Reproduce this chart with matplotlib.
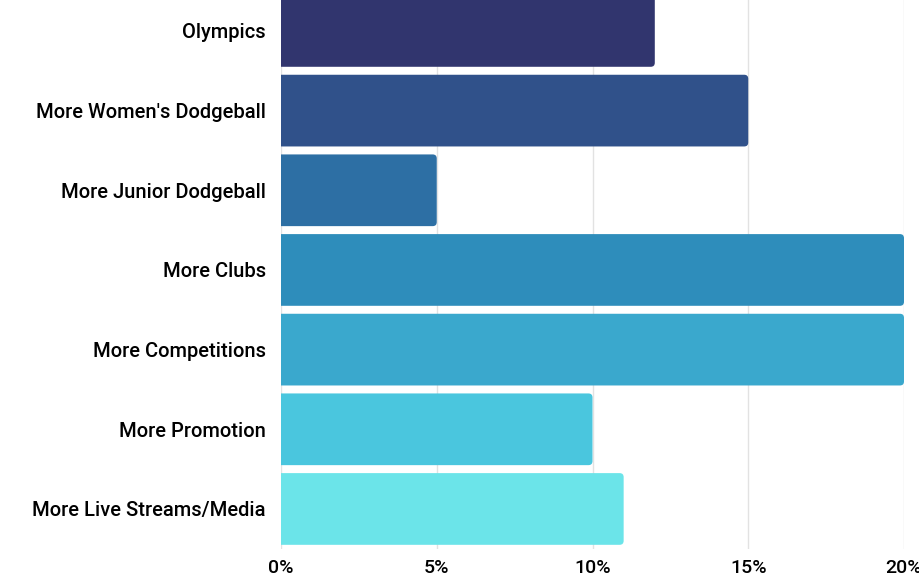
import matplotlib.pyplot as plt
from matplotlib.patches import FancyBboxPatch
from matplotlib.ticker import FuncFormatter

# categories and values (percent of responses)
categories = ["Olympics", "More Women's Dodgeball", "More Junior Dodgeball",
              "More Clubs", "More Competitions", "More Promotion",
              "More Live Streams/Media"]
values = [12, 15, 5, 20, 20, 10, 11]
colors = ["#31356e", "#30518a", "#2d6fa4", "#2e8dbb",
          "#3aa8cd", "#4ac6de", "#6be4e9"]
xticks = [0, 5, 10, 15, 20]

plt.rcParams['font.family'] = ['Roboto', 'DejaVu Sans']

fig = plt.figure(figsize=(9.19, 5.82), dpi=100)
ax = fig.add_axes([281 / 919, 33.2 / 582, 623 / 919, 557.7 / 582])

bar_h = 0.9
for i, (v, c) in enumerate(zip(values, colors)):
    # start left of zero so only the right corners show rounded
    patch = FancyBboxPatch((-1, i - bar_h / 2), v + 1, bar_h,
                           boxstyle="round,pad=0,rounding_size=0.13",
                           mutation_aspect=0.39, facecolor=c,
                           edgecolor='none', zorder=2)
    ax.add_patch(patch)

ax.set_xlim(0, 20)
ax.set_ylim(len(categories) - 0.5, -0.5)
ax.set_yticks(range(len(categories)))
ax.set_yticklabels(categories, fontsize=14.5, fontweight='medium')
ax.set_xticks(xticks)
ax.xaxis.set_major_formatter(FuncFormatter(lambda x, p: f"{x:.0f}%"))
for lab in ax.get_xticklabels():
    lab.set_fontweight('medium')
ax.tick_params(axis='x', labelsize=14, length=0, pad=7)
ax.tick_params(axis='y', length=0, pad=11)

ax.grid(axis='x', color='#e2e2e2', linewidth=1, zorder=0)
ax.set_axisbelow(True)
for s in ax.spines.values():
    s.set_visible(False)

fig.savefig('out.png', dpi=100)
